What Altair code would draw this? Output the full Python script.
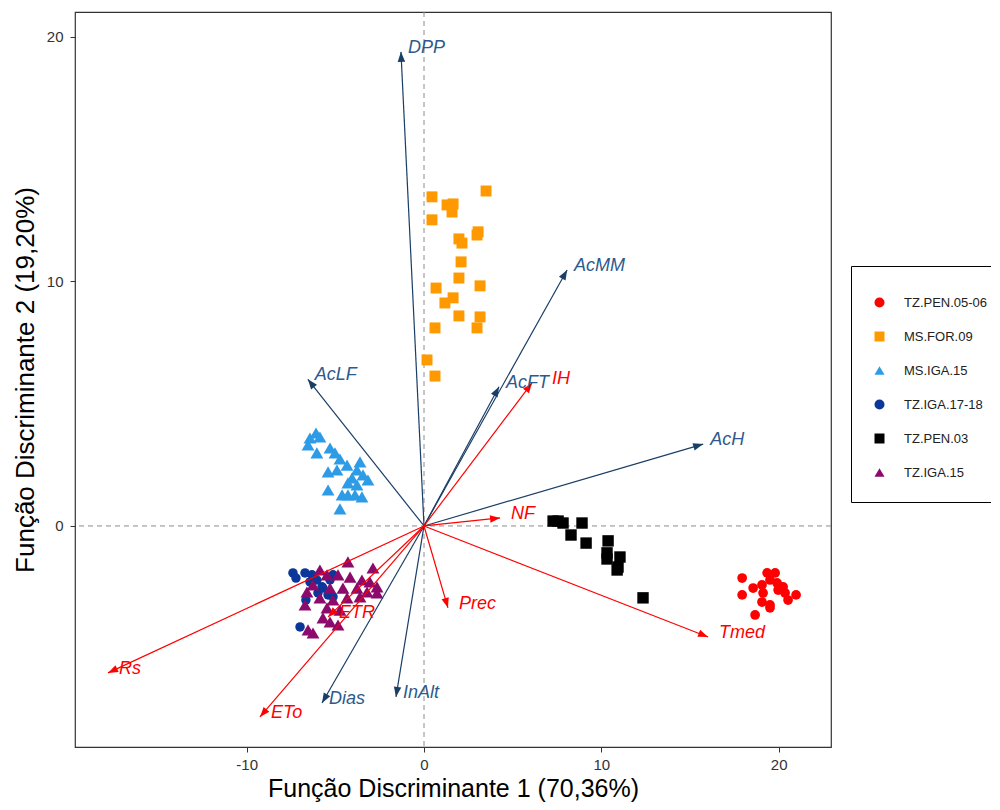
import altair as alt
import pandas as pd
import numpy as np

FONT = "Liberation Sans"

# ---------------- data ----------------
groups = ["TZ.PEN.05-06", "MS.FOR.09", "MS.IGA.15", "TZ.IGA.17-18", "TZ.PEN.03", "TZ.IGA.15"]
group_colors = ["#FF0000", "#FF9900", "#2E9BE6", "#0A3799", "#000000", "#8B0A6B"]
group_shapes = ["circle", "square", "triangle-up", "circle", "square", "triangle-up"]
group_sizes = [95, 120, 165, 90, 130, 165]

pen0506_x = [17.94, 17.94, 18.67, 18.56, 19.06, 19.35, 19.80, 19.51, 19.91, 19.97, 20.36, 20.53, 20.98, 19.06, 19.51, 19.51, 19.12, 20.25]
pen0506_y = [-2.13, -2.82, -3.64, -2.54, -2.41, -1.92, -1.92, -2.21, -2.33, -2.62, -2.74, -3.03, -2.82, -3.11, -3.23, -3.35, -2.74, -2.49]

for09_x = [3.50, 0.45, 1.30, 1.64, 1.58, 0.45, 3.05, 2.99, 1.97, 2.14, 2.09, 1.97, 3.16, 0.68, 1.18, 1.64, 1.97, 3.16, 2.99, 0.62, 0.17, 0.62]
for09_y = [13.70, 13.46, 13.13, 13.17, 12.84, 12.52, 12.03, 11.90, 11.74, 11.57, 10.80, 10.14, 9.82, 9.73, 9.12, 9.33, 8.59, 8.55, 8.10, 8.10, 6.79, 6.13]

msiga15_x = [-6.09, -6.43, -5.87, -6.54, -6.04, -5.30, -5.02, -4.74, -5.41, -4.91, -4.34, -3.61, -3.78, -3.44, -3.16, -4.06, -3.78, -5.41, -4.62, -4.29, -3.89, -3.50, -4.74, -4.29]
msiga15_y = [3.80, 3.60, 3.64, 3.31, 2.99, 3.19, 2.99, 2.74, 2.21, 2.29, 2.49, 2.62, 2.29, 2.09, 1.88, 1.96, 1.68, 1.47, 1.27, 1.27, 1.27, 1.19, 0.70, 1.76]

tziga1718_x = [-7.39, -7.22, -6.71, -6.32, -6.04, -5.75, -5.30, -5.13, -5.98, -5.41, -5.13, -6.99, -5.70, -6.43, -6.66]
tziga1718_y = [-1.92, -2.13, -1.92, -2.00, -2.21, -2.49, -2.21, -2.00, -2.74, -2.82, -2.90, -4.13, -2.54, -2.29, -3.03]

pen03_x = [7.28, 7.56, 7.84, 8.91, 8.29, 9.14, 10.38, 10.32, 10.32, 11.05, 10.94, 10.89, 12.35]
pen03_y = [0.20, 0.20, 0.12, 0.12, -0.37, -0.70, -0.61, -1.10, -1.35, -1.27, -1.68, -1.80, -2.94]

tziga15_x = [-4.29, -2.88, -5.87, -5.47, -4.85, -4.17, -3.50, -3.05, -2.65, -6.26, -6.60, -5.30, -4.57, -3.78, -3.21, -2.65, -5.87, -5.13, -4.34, -3.61, -6.71, -5.47, -4.74, -5.70, -6.26, -6.54, -4.85, -5.30]
tziga15_y = [-1.47, -1.72, -1.80, -2.00, -2.00, -2.09, -2.21, -2.29, -2.49, -2.41, -2.70, -2.54, -2.54, -2.54, -2.70, -2.74, -2.94, -3.03, -2.94, -2.90, -3.23, -3.35, -3.44, -3.76, -4.38, -4.25, -4.05, -3.93]

# loading vectors
blue_vars = ["DPP", "AcMM", "AcLF", "AcFT", "AcH", "Dias", "InAlt"]
blue_x = [-1.30, 8.07, -6.55, 4.23, 15.74, -5.75, -1.58]
blue_y = [19.39, 10.47, 6.00, 5.69, 3.35, -7.24, -6.99]

red_vars = ["NF", "Prec", "Tmed", "Rs", "ETo", "ETR"]
red_x = [4.29, 1.35, 16.02, -17.82, -9.25, -5.41]
red_y = [0.33, -3.35, -4.54, -6.01, -7.81, -3.72]

ih_var = ["IH"]
ih_x = [6.09]
ih_y = [5.85]

x_ticks = [-10, 0, 10, 20]
y_ticks = [0, 10, 20]
x_title = "Função Discriminante 1 (70,36%)"
y_title = "Função Discriminante 2 (19,20%)"

# ---------------- layout ----------------
W, H = 756, 735
XMIN, XMAX = -19.68, 22.95
YMIN, YMAX = -9.04, 21.02
SX = W / (XMAX - XMIN)
SY = H / (YMAX - YMIN)
HEAD = 5.0
BLUE_LINE = "#1A3E66"
BLUE_TEXT = "#2C5A8C"
RED = "#FF0000"

xscale = alt.Scale(domain=[XMIN, XMAX], nice=False, zero=False)
yscale = alt.Scale(domain=[YMIN, YMAX], nice=False, zero=False)

xaxis = alt.Axis(values=x_ticks, grid=False, domain=False, tickSize=5, tickColor="#333333",
                 tickWidth=1, labelFontSize=15, labelFont=FONT, labelColor="#333333",
                 labelPadding=5, labelExpr="'' + datum.value", labelFlush=False,
                 titleFontSize=25, titleFont=FONT, titleFontWeight="normal", titleColor="black",
                 titleY=49, titleBaseline="alphabetic")
yaxis = alt.Axis(values=y_ticks, grid=False, domain=False, tickSize=5, tickColor="#333333",
                 tickWidth=1, labelFontSize=15, labelFont=FONT, labelColor="#333333",
                 labelPadding=7, labelExpr="'' + datum.value",
                 titleFontSize=26, titleFont=FONT, titleFontWeight="normal", titleColor="black",
                 titleX=-42, titleY=H / 2, titleAngle=270, titleAlign="center",
                 titleBaseline="alphabetic")


def X(f):
    return alt.X(f"{f}:Q", scale=xscale, axis=xaxis, title=x_title)


def Y(f):
    return alt.Y(f"{f}:Q", scale=yscale, axis=yaxis, title=y_title)


legend = alt.Legend(title=" ", titleFontSize=4, titlePadding=4, orient="none",
                    legendX=776, legendY=254, strokeColor="black", fillColor="white",
                    padding=22, labelFontSize=13, labelFont=FONT, labelColor="#222222",
                    symbolSize=100, rowPadding=20, labelOffset=18, symbolStrokeWidth=0)

color_scale = alt.Scale(domain=groups, range=group_colors)
shape_scale = alt.Scale(domain=groups, range=group_shapes)

# one point layer per group (drawn in this order), all sharing the colour/shape scales
point_layers = []
for g, size, xs, ys in zip(groups, group_sizes,
                           [pen0506_x, for09_x, msiga15_x, tziga1718_x, pen03_x, tziga15_x],
                           [pen0506_y, for09_y, msiga15_y, tziga1718_y, pen03_y, tziga15_y]):
    df_g = pd.DataFrame({"x": xs, "y": ys, "grp": g})
    point_layers.append(
        alt.Chart(df_g).mark_point(filled=True, opacity=1, strokeWidth=0, size=size).encode(
            x=X("x"), y=Y("y"),
            color=alt.Color("grp:N", scale=color_scale, legend=legend, title=" "),
            shape=alt.Shape("grp:N", scale=shape_scale, legend=legend, title=" "),
        )
    )


def arrow_df(names, xs, ys):
    df = pd.DataFrame({"name": names, "x": xs, "y": ys})
    df["x0"] = 0.0
    df["y0"] = 0.0
    px = df["x"] * SX
    py = df["y"] * SY
    L = np.hypot(px, py)
    df["hx"] = df["x"] - HEAD * (px / L) / SX
    df["hy"] = df["y"] - HEAD * (py / L) / SY
    df["ang"] = np.degrees(np.arctan2(px, py)) % 360
    return df


HEAD_PATH = "M0,-1L-0.75,1L0.75,1Z"


def arrows(df, line_color, text_color, dx):
    rule = alt.Chart(df).mark_rule(color=line_color, strokeWidth=1.2).encode(
        x=X("x"), y=Y("y"), x2="x0", y2="y0")
    head = alt.Chart(df).mark_point(shape=HEAD_PATH, filled=True, size=100, color=line_color,
                                    opacity=1, strokeWidth=0).encode(
        x=X("hx"), y=Y("hy"), angle=alt.Angle("ang:Q", scale=None))
    text = alt.Chart(df).mark_text(align="left", baseline="middle", dx=dx, dy=-4,
                                   fontStyle="italic", fontSize=18, font=FONT,
                                   color=text_color).encode(
        x=X("x"), y=Y("y"), text="name:N")
    return rule, head, text


df_blue = arrow_df(blue_vars, blue_x, blue_y)
df_red = arrow_df(red_vars, red_x, red_y)
df_ih = arrow_df(ih_var, ih_x, ih_y)

b_rule, b_head, b_text = arrows(df_blue, BLUE_LINE, BLUE_TEXT, 7)
r_rule, r_head, r_text = arrows(df_red, RED, RED, 11)
i_rule, i_head, i_text = arrows(df_ih, RED, RED, 20)

df_v = pd.DataFrame({"x": [0.0]})
df_h = pd.DataFrame({"y": [0.0]})
vline = alt.Chart(df_v).mark_rule(color="#8C8C8C", strokeDash=[5, 4], strokeWidth=1).encode(x=X("x"))
hline = alt.Chart(df_h).mark_rule(color="#8C8C8C", strokeDash=[5, 4], strokeWidth=1).encode(y=Y("y"))

chart = alt.layer(
    vline, hline, *point_layers,
    b_rule, r_rule, i_rule,
    b_head, r_head, i_head,
    b_text, r_text, i_text,
).properties(
    width=W, height=H,
    background="white",
    autosize=alt.AutoSizeParams(type="none"),
    padding={"left": 67, "top": 4, "right": 160, "bottom": 55},
).configure_view(stroke="#333333", strokeWidth=1.2)

chart.save("out.html", embed_options={"renderer": "svg", "actions": False})
